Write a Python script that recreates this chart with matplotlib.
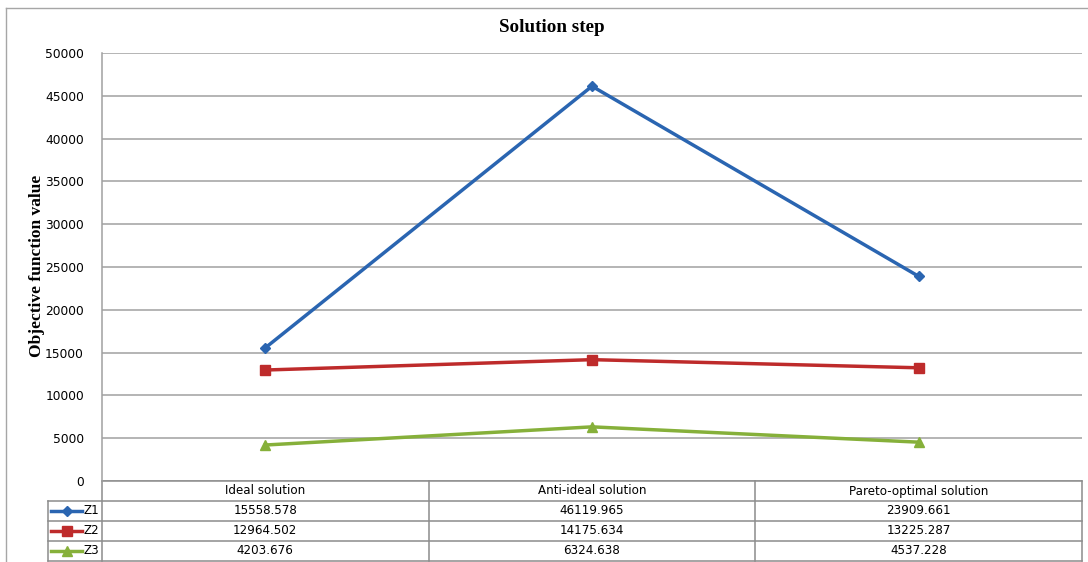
import numpy as np
import matplotlib.pyplot as plt
from matplotlib.lines import Line2D
import matplotlib.transforms as mtransforms

# solution steps and objective values
steps = ["Ideal solution", "Anti-ideal solution", "Pareto-optimal solution"]
z1 = [15558.578, 46119.965, 23909.661]
z2 = [12964.502, 14175.634, 13225.287]
z3 = [4203.676, 6324.638, 4537.228]
series_names = ["Z1", "Z2", "Z3"]
value_labels = [["15558.578", "46119.965", "23909.661"],
                ["12964.502", "14175.634", "13225.287"],
                ["4203.676", "6324.638", "4537.228"]]

colors = ["#2a65b1", "#be2b2b", "#86b03a"]
markers = ["D", "s", "^"]
msizes = [5.5, 7, 7]

W, H = 1088, 562
fig = plt.figure(figsize=(W / 100, H / 100), dpi=100)

# outer chart frame (left and top edges)
frame_kw = dict(color="#a6a6a6", linewidth=1.0, transform=fig.transFigure)
fig.add_artist(Line2D([6 / W, 6 / W], [0, 1 - 8 / H], **frame_kw))
fig.add_artist(Line2D([6 / W, 1], [1 - 8 / H, 1 - 8 / H], **frame_kw))

left, right, top, bottom = 102, 1082, 53, 481
ax = fig.add_axes([left / W, 1 - bottom / H, (right - left) / W, (bottom - top) / H])

x = np.arange(len(steps))
for vals, c, m, ms in zip([z1, z2, z3], colors, markers, msizes):
    ax.plot(x, vals, color=c, linewidth=2.5, marker=m, markersize=ms,
            markerfacecolor=c, markeredgecolor=c, zorder=3)

ax.set_xlim(-0.5, len(steps) - 0.5)
ax.set_ylim(0, 50000)
ax.set_yticks(np.arange(0, 50001, 5000))
ax.yaxis.grid(True, color="#a0a0a0", linewidth=1.1)
ax.set_axisbelow(True)
ax.set_xticks([])
ax.tick_params(axis="y", length=0, pad=13, labelsize=8.8, labelfontfamily="DejaVu Sans")
for s in ["top", "right", "bottom"]:
    ax.spines[s].set_visible(False)
ax.spines["left"].set_color("#a0a0a0")
ax.spines["left"].set_linewidth(1.1)

fig.text(552 / W, 1 - 28 / H, "Solution step", ha="center", va="center",
         fontsize=13.7, fontweight="bold", family="Liberation Serif")
fig.text(37 / W, 1 - 266 / H, "Objective function value", ha="center", va="center",
         rotation=90, fontsize=12.5, fontweight="bold", family="Liberation Serif")

# data table under the plot, x in data units, y in axes units
trans = mtransforms.blended_transform_factory(ax.transData, ax.transAxes)
row_h = 20 / (bottom - top)
unit = (right - left) / len(steps)
xl, xr = -0.5, len(steps) - 0.5
key_left = xl - (left - 48) / unit
grid_kw = dict(color="#8c8c8c", linewidth=1.1, transform=trans, clip_on=False)

nrows = 4
y_bot = -nrows * row_h
# horizontal lines
ax.add_line(Line2D([xl, xr], [0, 0], **grid_kw))
for r in range(1, nrows + 1):
    ax.add_line(Line2D([key_left, xr], [-r * row_h] * 2, **grid_kw))
# vertical lines
ax.add_line(Line2D([xr, xr], [0, y_bot], **grid_kw))
ax.add_line(Line2D([xl, xl], [0, y_bot], **grid_kw))
ax.add_line(Line2D([key_left, key_left], [-row_h, y_bot], **grid_kw))
for k in range(1, len(steps)):
    ax.add_line(Line2D([k - 0.5, k - 0.5], [0, y_bot], **grid_kw))

txt_kw = dict(transform=trans, ha="center", va="center", fontsize=8.6,
              family="DejaVu Sans", clip_on=False)
for i, s in enumerate(steps):
    ax.text(i, -0.5 * row_h, s, **txt_kw)
for r, (name, labels) in enumerate(zip(series_names, value_labels)):
    yc = -(r + 1.5) * row_h
    for i, lab in enumerate(labels):
        ax.text(i, yc, lab, **txt_kw)
    # legend key
    kx0 = xl - (left - 51) / unit
    kx1 = xl - (left - 82) / unit
    ax.add_line(Line2D([kx0, kx1], [yc, yc], color=colors[r], linewidth=2.5,
                       transform=trans, clip_on=False))
    ax.add_line(Line2D([(kx0 + kx1) / 2], [yc], marker=markers[r], markersize=msizes[r],
                       color=colors[r], transform=trans, clip_on=False))
    ax.text(xl - (left - 84) / unit, yc, name, transform=trans, ha="left", va="center",
            fontsize=8.6, family="DejaVu Sans", clip_on=False)

fig.savefig("out.png", dpi=100)
